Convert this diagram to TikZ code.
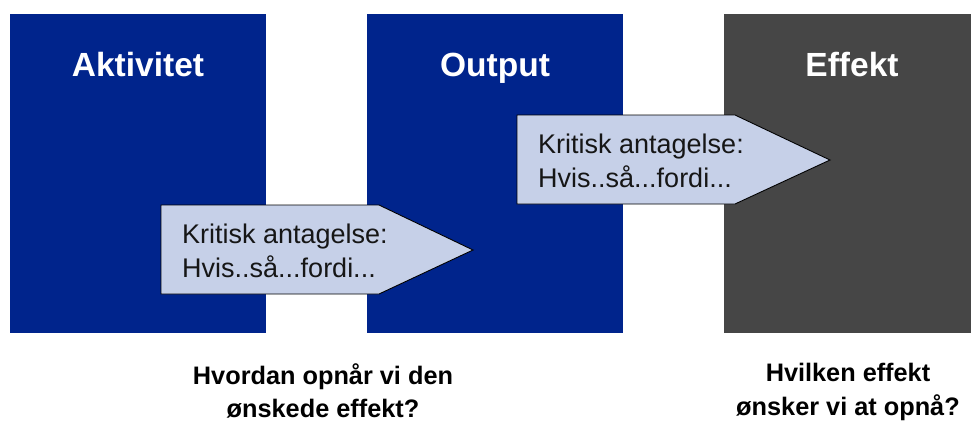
\documentclass[tikz,border=0pt]{standalone}
\usepackage{fontspec}
\setmainfont{Liberation Sans}
\definecolor{boxblue}{HTML}{00248C}
\definecolor{boxgray}{HTML}{464646}
\definecolor{arrowfill}{HTML}{C6D0E8}
\definecolor{txt}{HTML}{161616}
\tikzset{
  bigbox/.style={draw=none, minimum width=256pt, minimum height=319pt, inner sep=0pt, anchor=north west},
  title/.style={text=white, font=\fontsize{33.5}{40}\selectfont\bfseries, anchor=base, inner sep=0pt},
  assume/.style={fill=arrowfill, draw=black, line width=0.9pt, line join=miter},
  assumetext/.style={text=txt, font=\fontsize{27}{34}\selectfont, align=left, anchor=north west, inner sep=0pt},
  question/.style={text=black, font=\fontsize{25.3}{33.5}\selectfont\bfseries, align=center, anchor=north, inner sep=0pt}
}
\begin{document}
\begin{tikzpicture}[x=1pt,y=-1pt]
\useasboundingbox (0,0) rectangle (971,421);
\clip (0,0) rectangle (971,421);
\fill[white] (0,0) rectangle (971,421);
% boxes
\node[bigbox, fill=boxblue] (akt) at (10,14) {};
\node[bigbox, fill=boxblue] (out) at (367,14) {};
\node[bigbox, fill=boxgray] (eff) at (724,14) {};
\node[title] (taktiv) at (138,76) {Aktivitet};
\node[title] (toutput) at (495,76) {Output};
\node[title] (teffekt) at (852,76) {Effekt};
% assumption arrows
\draw[assume] (161,205) -- (379,205) -- (473,250) -- (379,294) -- (161,294) -- cycle;
\node[assumetext] (a1) at (182,223.5) {Kritisk antagelse:\\Hvis..så...fordi...};
\draw[assume] (517,115) -- (735,115) -- (830,160) -- (735,204) -- (517,204) -- cycle;
\node[assumetext] (a2) at (538,133.5) {Kritisk antagelse:\\Hvis..så...fordi...};
% questions
\node[question] (q1) at (323,363) {Hvordan opnår vi den\\ønskede effekt?};
\node[question] (q2) at (848,363) {Hvilken effekt\\ønsker vi at opnå?};
\end{tikzpicture}
\end{document}
